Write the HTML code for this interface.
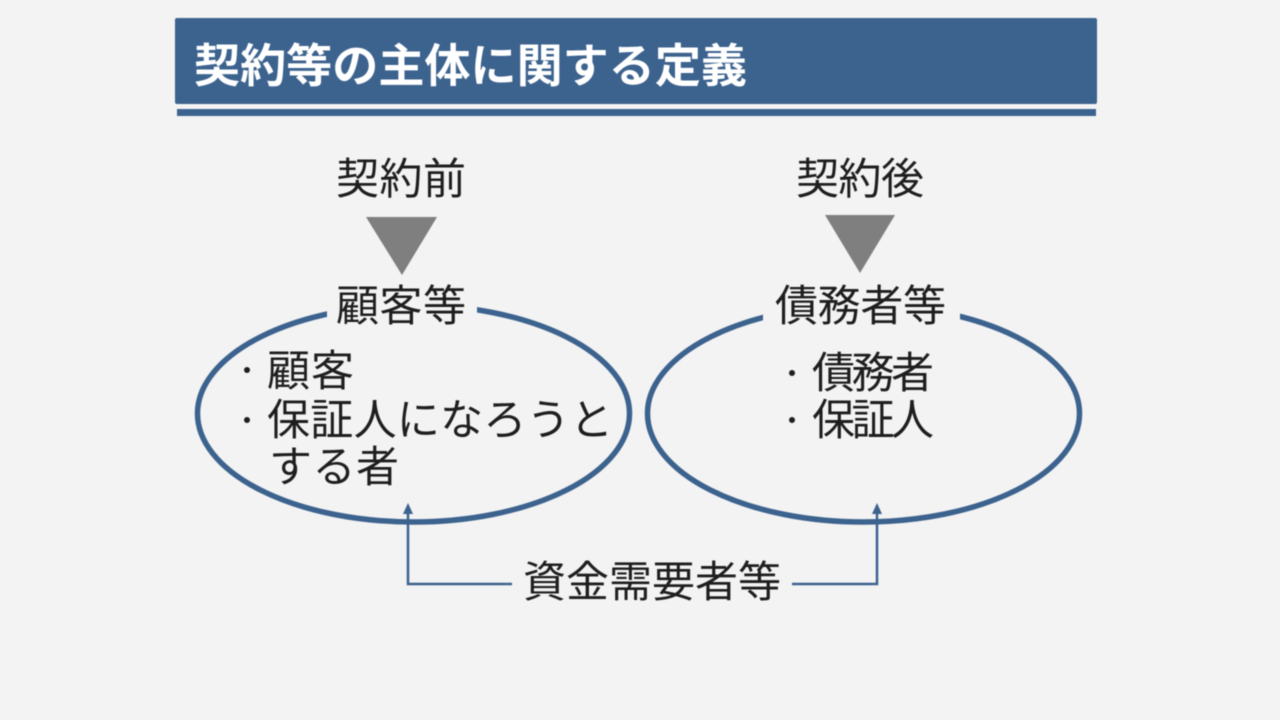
<!DOCTYPE html>
<html lang="ja">
<head>
<meta charset="utf-8">
<style>
html,body{margin:0;padding:0;background:#f3f3f3;}
svg{display:block;filter:blur(0.4px);}
text{font-family:"Liberation Sans","Noto Sans CJK JP",sans-serif;fill:#1e1e1e;}
</style>
</head>
<body>
<svg width="1280" height="720" viewBox="0 0 1280 720" xmlns="http://www.w3.org/2000/svg">
<rect width="1280" height="720" fill="#f3f3f3"/>
<rect x="175" y="18" width="922" height="86" rx="2" fill="#3c628e"/>
<rect x="177" y="109" width="919" height="7" fill="#3c628e"/>
<text x="194" y="82" font-size="46" font-weight="700" style="fill:#fff" textLength="553" lengthAdjust="spacingAndGlyphs">契約等の主体に関する定義</text>

<text x="336" y="194" font-size="43" textLength="130">契約前</text>
<text x="796" y="194" font-size="43" textLength="128">契約後</text>
<polygon points="366,217 437,217 402,275" fill="#7f7f7f"/>
<polygon points="825,215 895,215 860,273" fill="#7f7f7f"/>

<ellipse cx="413.500" cy="413.500" rx="216" ry="108.500" fill="none" stroke="#3c628e" stroke-width="5.500"/>
<ellipse cx="863.500" cy="413.500" rx="216" ry="108.500" fill="none" stroke="#3c628e" stroke-width="5.500"/>
<rect x="327" y="285" width="150" height="50" fill="#f3f3f3"/>
<rect x="763" y="285" width="197" height="50" fill="#f3f3f3"/>

<text x="336" y="321" font-size="43" textLength="130">顧客等</text>
<text x="775" y="321" font-size="43" textLength="171">債務者等</text>

<circle cx="247" cy="370" r="3" fill="#1e1e1e"/>
<text x="267" y="386" font-size="43" textLength="87">顧客</text>
<circle cx="247" cy="420" r="3" fill="#1e1e1e"/>
<text x="267" y="435" font-size="43" textLength="346">保証人になろうと</text>
<text x="269" y="482" font-size="43" textLength="130">する者</text>

<circle cx="792" cy="373" r="3" fill="#1e1e1e"/>
<text x="812" y="388" font-size="43" textLength="122">債務者</text>
<circle cx="792" cy="420" r="3" fill="#1e1e1e"/>
<text x="812" y="435" font-size="43" textLength="122">保証人</text>

<polyline points="408,512 408,584 512,584" fill="none" stroke="#3c628e" stroke-width="2.500"/>
<polyline points="792,584 877,584 877,512" fill="none" stroke="#3c628e" stroke-width="2.500"/>
<polygon points="408,503 403,514 413,514" fill="#3c628e"/>
<polygon points="877,503 872,514 882,514" fill="#3c628e"/>
<text x="523" y="597" font-size="43" textLength="258">資金需要者等</text>
</svg>
</body>
</html>
